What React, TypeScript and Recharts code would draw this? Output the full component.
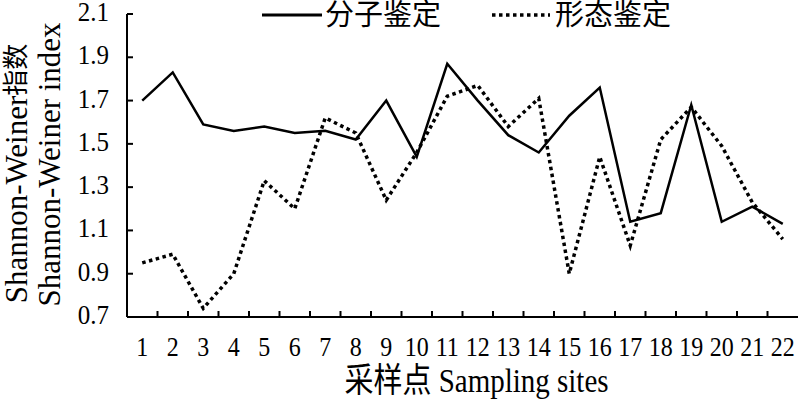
import { LineChart, Line, XAxis, YAxis } from "recharts"

// sampling sites 1-22
const sites = [
  "1", "2", "3", "4", "5", "6", "7", "8", "9", "10", "11",
  "12", "13", "14", "15", "16", "17", "18", "19", "20", "21", "22",
]

// Shannon-Weiner index, 分子鉴定 (solid)
const molecular = [
  1.7, 1.83, 1.59, 1.56, 1.58, 1.55, 1.56, 1.52, 1.7, 1.44, 1.87,
  1.7, 1.54, 1.46, 1.63, 1.76, 1.14, 1.18, 1.68, 1.14, 1.21, 1.13,
]

// Shannon-Weiner index, 形态鉴定 (dotted)
const morphological = [
  0.95, 0.99, 0.74, 0.9, 1.33, 1.2, 1.62, 1.55, 1.24, 1.46, 1.72,
  1.77, 1.58, 1.71, 0.9, 1.44, 1.03, 1.52, 1.67, 1.49, 1.23, 1.06,
]

const yTicks = [0.7, 0.9, 1.1, 1.3, 1.5, 1.7, 1.9, 2.1]

const data = sites.map((site, i) => ({
  site,
  molecular: molecular[i],
  morphological: morphological[i],
}))

const FONT = "'Liberation Serif', 'Times New Roman', 'Noto Sans CJK SC', serif"

// the source figure's text is a bit taller than it is wide
const stretch = (x: number, y: number, k = 1.18) => `translate(${x} ${y}) scale(1 ${k})`

const YTick = ({ x, y, payload }: any) => (
  <g>
    <line x1={x} x2={x + 6} y1={y} y2={y} stroke="#000" strokeWidth={2} />
    <text transform={stretch(x - 18, y + 7, 1.06)} textAnchor="end" fontSize={25} fontFamily={FONT} fill="#000">
      {Number(payload.value).toFixed(1)}
    </text>
  </g>
)

// label at the band centre, inward tick mark on the band's left edge
const SiteTick = ({ x, y, payload, index }: any) => {
  const edge = x - (payload.offset || 0)
  return (
    <g>
      {index > 0 && (
        <line x1={edge} x2={edge} y1={y} y2={y - 6} stroke="#000" strokeWidth={2} />
      )}
      <text transform={stretch(x, y + 39)} textAnchor="middle" fontSize={24} fontFamily={FONT} fill="#000">
        {payload.value}
      </text>
    </g>
  )
}

const YTitle = ({ viewBox }: any) => {
  const cy = viewBox.y + viewBox.height / 2
  return (
    <g fontFamily={FONT} fontSize={31} fill="#000">
      <text x={16} y={cy + 8} transform={`rotate(-90 16 ${cy + 8})`} textAnchor="middle" dominantBaseline="central">
        Shannon-Weiner<tspan fontSize={26}>指数</tspan>
      </text>
      <text x={49} y={cy - 1} transform={`rotate(-90 49 ${cy - 1})`} textAnchor="middle" dominantBaseline="central">
        Shannon-Weiner index
      </text>
    </g>
  )
}

const XTitle = ({ viewBox }: any) => (
  <text
    transform={stretch(viewBox.x + viewBox.width / 2 + 14, viewBox.y + 75)}
    textAnchor="middle"
    fontSize={29}
    fontFamily={FONT}
    fill="#000"
  >
    采样点 Sampling sites
  </text>
)

function LegendOverlay() {
  return (
    <svg width={800} height={34} style={{ position: "absolute", left: 0, top: 0 }}>
      <g fontFamily={FONT} fontSize={29} fill="#000">
        <line x1={262} x2={322} y1={15} y2={15} stroke="#000" strokeWidth={3} />
        <text x={325} y={15} dominantBaseline="central">分子鉴定</text>
        <line x1={492} x2={550} y1={15} y2={15} stroke="#000" strokeWidth={3.5} strokeDasharray="3.5 3.5" />
        <text x={555} y={15} dominantBaseline="central">形态鉴定</text>
      </g>
    </svg>
  )
}

export default function App() {
  return (
    <div style={{ position: "absolute", left: 0, top: 0, width: 800, height: 400, background: "#fff" }}>
      <LineChart
        width={800}
        height={400}
        data={data}
        margin={{ top: 14, right: 2, left: 0, bottom: 0 }}
      >
        <XAxis
          dataKey="site"
          scale="band"
          height={83}
          axisLine={{ stroke: "#000", strokeWidth: 2 }}
          tickLine={false}
          tickSize={0}
          tickMargin={0}
          interval={0}
          tick={<SiteTick />}
          label={<XTitle />}
        />
        <YAxis
          domain={[0.7, 2.1]}
          ticks={yTicks}
          width={127}
          axisLine={{ stroke: "#000", strokeWidth: 2 }}
          tickLine={false}
          tickSize={0}
          tickMargin={0}
          interval={0}
          tick={<YTick />}
          label={<YTitle />}
        />
        <Line
          type="linear"
          dataKey="molecular"
          stroke="#000"
          strokeWidth={2.5}
          dot={false}
          isAnimationActive={false}
        />
        <Line
          type="linear"
          dataKey="morphological"
          stroke="#000"
          strokeWidth={3.5}
          strokeDasharray="3.5 3.5"
          dot={false}
          isAnimationActive={false}
        />
      </LineChart>
      <LegendOverlay />
    </div>
  )
}
